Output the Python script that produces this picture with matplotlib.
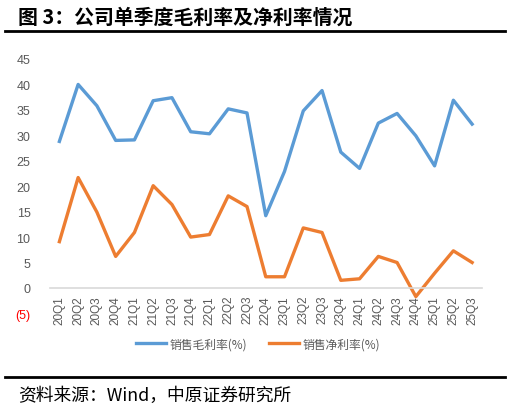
import numpy as np
import matplotlib
import matplotlib.pyplot as plt
from matplotlib.lines import Line2D

matplotlib.use('Agg')

quarters = ['20Q1', '20Q2', '20Q3', '20Q4', '21Q1', '21Q2', '21Q3', '21Q4',
            '22Q1', '22Q2', '22Q3', '22Q4', '23Q1', '23Q2', '23Q3', '23Q4',
            '24Q1', '24Q2', '24Q3', '24Q4', '25Q1', '25Q2', '25Q3']
gross_margin = [28.8, 40.0, 35.8, 29.0, 29.1, 36.8, 37.4, 30.7, 30.3, 35.2, 34.4, 14.2,
                22.9, 34.8, 38.8, 26.7, 23.5, 32.4, 34.3, 29.9, 24.0, 36.9, 32.2]
net_margin = [9.1, 21.7, 14.9, 6.2, 10.9, 20.1, 16.4, 10.0, 10.5, 18.1, 16.0, 2.2,
              2.2, 11.8, 10.9, 1.5, 1.8, 6.2, 5.0, -1.7, 2.9, 7.3, 5.0]
y_ticks = [-5, 0, 5, 10, 15, 20, 25, 30, 35, 40, 45]
series_names = ['销售毛利率(%)', '销售净利率(%)']

cjk = ['Noto Sans CJK SC', 'DejaVu Sans']
num_font = 'Liberation Sans'
gray = '#595959'
blue = '#5B9BD5'
orange = '#ED7D31'

fig = plt.figure(figsize=(5.11, 4.10), dpi=100)

# header / footer rules and texts
fig.text(18 / 511, 1 - 17 / 410, '图 3：公司单季度毛利率及净利率情况', family=cjk,
         fontsize=14.3, fontweight='bold', va='center', ha='left')
fig.add_artist(Line2D([5 / 511, 505 / 511], [1 - 32 / 410] * 2, color='black', lw=2))
fig.add_artist(Line2D([5 / 511, 505 / 511], [1 - 378 / 410] * 2, color='black', lw=2))
fig.text(18 / 511, 1 - 396 / 410, '资料来源：Wind，中原证券研究所', family=cjk,
         fontsize=12.8, va='center', ha='left')

ax = fig.add_axes([50 / 511, 1 - 314.4 / 410, (481.5 - 50) / 511, (314.4 - 60) / 410])
x = np.arange(len(quarters))
ax.plot(x, gross_margin, color=blue, lw=2.4, label=series_names[0], solid_joinstyle='round')
ax.plot(x, net_margin, color=orange, lw=2.4, label=series_names[1], solid_joinstyle='round')

for s in ['top', 'right', 'left']:
    ax.spines[s].set_visible(False)
ax.spines['bottom'].set_position(('data', 0))
ax.spines['bottom'].set_color('#D9D9D9')
ax.spines['bottom'].set_linewidth(1.2)
ax.patch.set_alpha(0)

ax.set_xlim(-0.5, len(quarters) - 0.5)
ax.set_ylim(-5, 45)
ax.set_yticks(y_ticks)
ax.set_yticklabels(['(5)' if v < 0 else str(v) for v in y_ticks])
for lab, v in zip(ax.get_yticklabels(), y_ticks):
    lab.set_color('red' if v < 0 else gray)
    lab.set_fontfamily(num_font)
    lab.set_fontsize(9)
ax.tick_params(axis='y', length=0, pad=14)

ax.set_xticks(x)
ax.set_xticklabels(quarters, rotation=90, family=num_font, fontsize=8.5, color=gray)
ax.tick_params(axis='x', length=0, pad=5)

leg = fig.legend(loc='center', bbox_to_anchor=(258 / 511, 1 - 345 / 410), ncol=2,
                 frameon=False, handlelength=2.6, columnspacing=1.8, handletextpad=0.3,
                 prop={'family': cjk, 'size': 8.5})
for t in leg.get_texts():
    t.set_color(gray)

fig.savefig('out.png', dpi=100)
